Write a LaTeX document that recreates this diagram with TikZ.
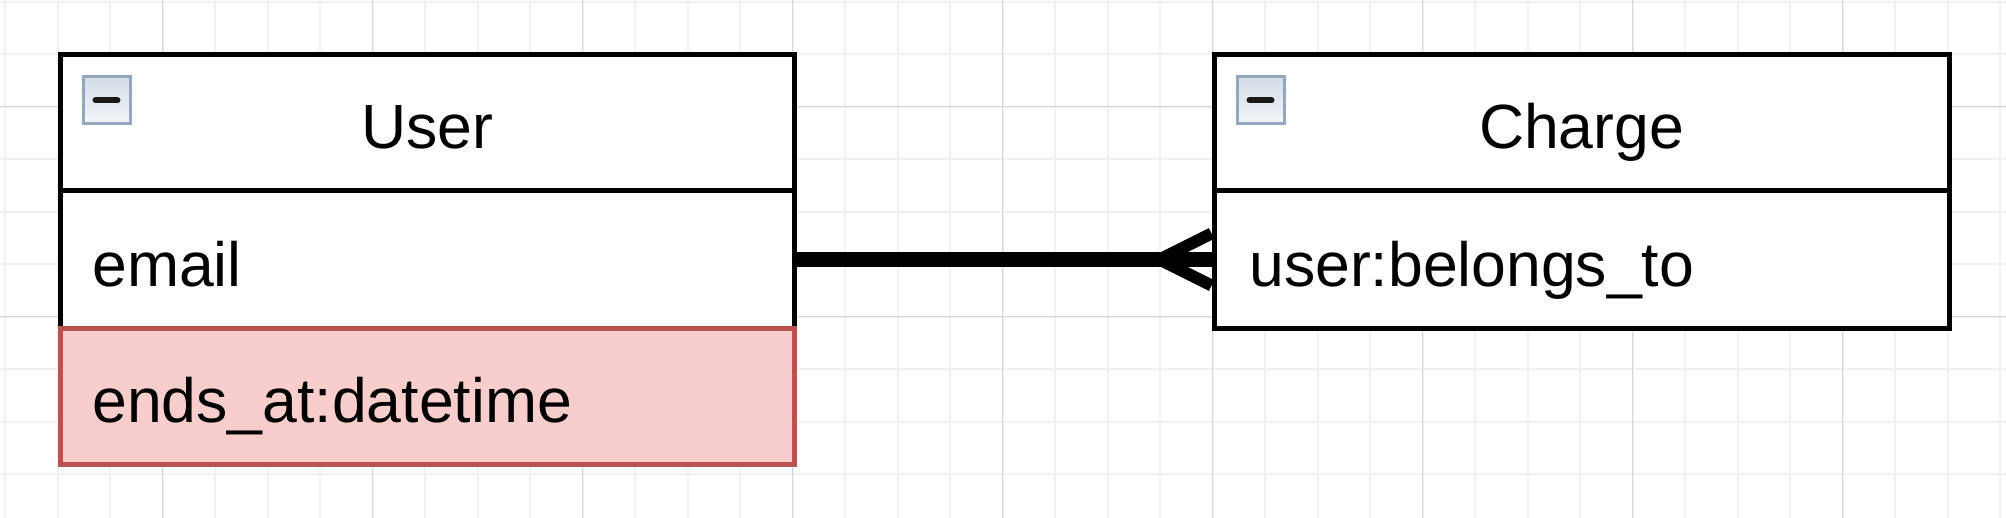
\documentclass[tikz,border=0pt]{standalone}
\usepackage{fontspec}
\setmainfont{Liberation Sans}
\definecolor{redfill}{HTML}{F8CECC}
\definecolor{redline}{HTML}{B85450}
\definecolor{gridminor}{HTML}{F1F1F1}
\definecolor{gridmajor}{HTML}{D6D6D6}
\definecolor{iconframe}{HTML}{93A8BE}
\definecolor{icontop}{HTML}{D3DCE6}
\definecolor{iconbot}{HTML}{F3F5F8}
\tikzset{
  minorgrid/.style={gridminor, line width=1pt},
  majorgrid/.style={gridmajor, line width=0.75pt},
  section/.style={rectangle, draw=black, fill=white, line width=2.5pt, inner sep=0pt},
  redsection/.style={rectangle, draw=redline, fill=redfill, line width=2.5pt, inner sep=0pt},
  label/.style={inner sep=0pt, font=\fontsize{31.25pt}{37pt}\selectfont},
  icon/.style={rectangle, minimum size=23.5pt, inner sep=0pt, draw=iconframe, line width=1.5pt, top color=icontop, bottom color=iconbot},
  minus/.style={line width=3pt, line cap=round, black!90},
  relation/.style={line width=7pt},
  prong/.style={line width=6pt}
}
\begin{document}
\begin{tikzpicture}[x=0.5pt, y=-0.5pt]
\useasboundingbox (0,0) rectangle (2006,518);
\fill[white] (0,0) rectangle (2006,518);
% grid
\foreach \i in {0,...,38} {\draw[minorgrid] ({5.1+52.5*\i},0) -- ({5.1+52.5*\i},518);}
\foreach \j in {0,...,9} {\draw[minorgrid] (0,{1.7+52.5*\j}) -- (2006,{1.7+52.5*\j});}
\foreach \k in {0,...,8} {\draw[majorgrid] ({162.6+210*\k},0) -- ({162.6+210*\k},518);}
\foreach \j in {0,1} {\draw[majorgrid] (0,{106.7+210*\j}) -- (2006,{106.7+210*\j});}

% User entity
\node[section, minimum width=367pt, minimum height=68pt] (uhead) at (427,123) {};
\node[section, minimum width=367pt, minimum height=68.5pt] (uemail) at (427,259.5) {};
\node[redsection, minimum width=367pt, minimum height=68pt] (uends) at (427,396) {};
\node[label, anchor=base] (utitle) at (427,149) {User};
\node[label, anchor=base west] (uemailtxt) at (92,286) {email};
\node[label, anchor=base west] (uendstxt) at (92,422) {ends\_at:datetime};
\node[icon] (uicon) at (106.5,100.5) {};
\draw[minus] ([xshift=-5.5pt]uicon.center) -- ([xshift=5.5pt]uicon.center);

% Charge entity
\node[section, minimum width=367.5pt, minimum height=68pt] (chead) at (1581.5,123) {};
\node[section, minimum width=367.5pt, minimum height=68.5pt] (cbelong) at (1581.5,259.5) {};
\node[label, anchor=base] (ctitle) at (1581.5,149) {Charge};
\node[label, anchor=base west] (cbelongtxt) at (1249,286) {user:belongs\_to};
\node[icon] (cicon) at (1260.5,100.5) {};
\draw[minus] ([xshift=-5.5pt]cicon.center) -- ([xshift=5.5pt]cicon.center);

% relation: one User to many Charges (crow's foot)
\coordinate (fork) at ([xshift=-26pt]cbelong.west);
\draw[relation] (uemail.east) -- (cbelong.west);
\draw[prong] (fork) -- ([yshift=13pt]cbelong.west);
\draw[prong] (fork) -- ([yshift=-13pt]cbelong.west);
\end{tikzpicture}
\end{document}
